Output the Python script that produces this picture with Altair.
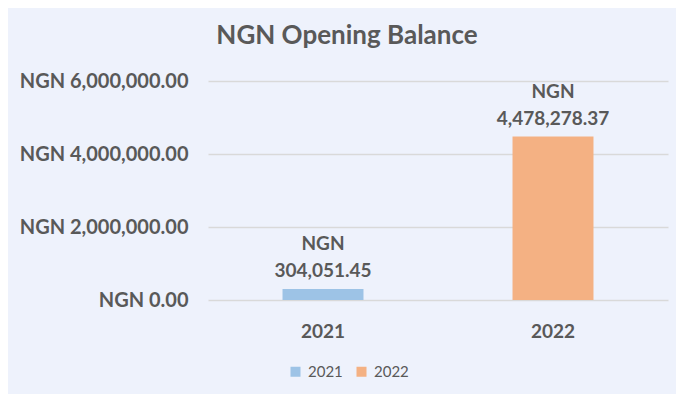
import altair as alt
import pandas as pd

years = ["2021", "2022"]
balances = [304051.45, 4478278.37]
labels = ["NGN\n304,051.45", "NGN\n4,478,278.37"]
colors = ["#9DC3E6", "#F4B183"]
y_ticks = [0, 2000000, 4000000, 6000000]

df = pd.DataFrame({"year": years, "balance": balances, "label": labels})

FONT = "Lato"
GREY = "#595959"

base = alt.Chart(df).encode(
    x=alt.X(
        "year:N",
        title=None,
        scale=alt.Scale(paddingInner=0.648, paddingOuter=0.324),
        axis=alt.Axis(
            labelAngle=0, ticks=False, domain=False, grid=False,
            labelFont=FONT, labelFontSize=19, labelFontWeight="bold",
            labelColor=GREY, labelBaseline="alphabetic", labelPadding=37,
        ),
    )
)

bars = base.mark_bar().encode(
    y=alt.Y(
        "balance:Q",
        title=None,
        scale=alt.Scale(domain=[0, 6000000], nice=False),
        axis=alt.Axis(
            values=y_ticks, ticks=False, domain=False,
            gridColor="#D9D9D9", gridWidth=1.5,
            labelExpr="'NGN ' + format(datum.value, ',.2f')",
            labelFont=FONT, labelFontSize=20, labelFontWeight="bold",
            labelColor=GREY, labelPadding=20,
        ),
    ),
    color=alt.Color(
        "year:N",
        scale=alt.Scale(domain=years, range=colors),
        legend=alt.Legend(
            title=None, orient="none", direction="horizontal",
            legendX=80, legendY=283,
            symbolType="square", symbolSize=100, symbolStrokeWidth=0,
            labelFont=FONT, labelFontSize=15, labelColor=GREY,
            columnPadding=11, labelOffset=5,
        ),
    ),
)

texts = base.mark_text(
    baseline="alphabetic", dy=-39, lineBreak="\n", lineHeight=27,
    font=FONT, fontSize=19, fontWeight="bold", color=GREY,
).encode(
    y="balance:Q",
    text="label:N",
)

chart = (
    (bars + texts)
    .properties(
        width=460,
        height=219,
        autosize=alt.AutoSizeParams(type="none"),
        padding={"left": 200, "top": 73, "right": 8, "bottom": 94},
        title=alt.TitleParams(
            "NGN Opening Balance", font=FONT, fontSize=26, fontWeight="bold",
            color=GREY, anchor="middle", dx=-91, offset=1, baseline="alphabetic",
        ),
        background="#EEF2FC",
    )
    .configure_view(stroke=None)
)

chart.save("out.html", embed_options={"renderer": "svg", "actions": False})
